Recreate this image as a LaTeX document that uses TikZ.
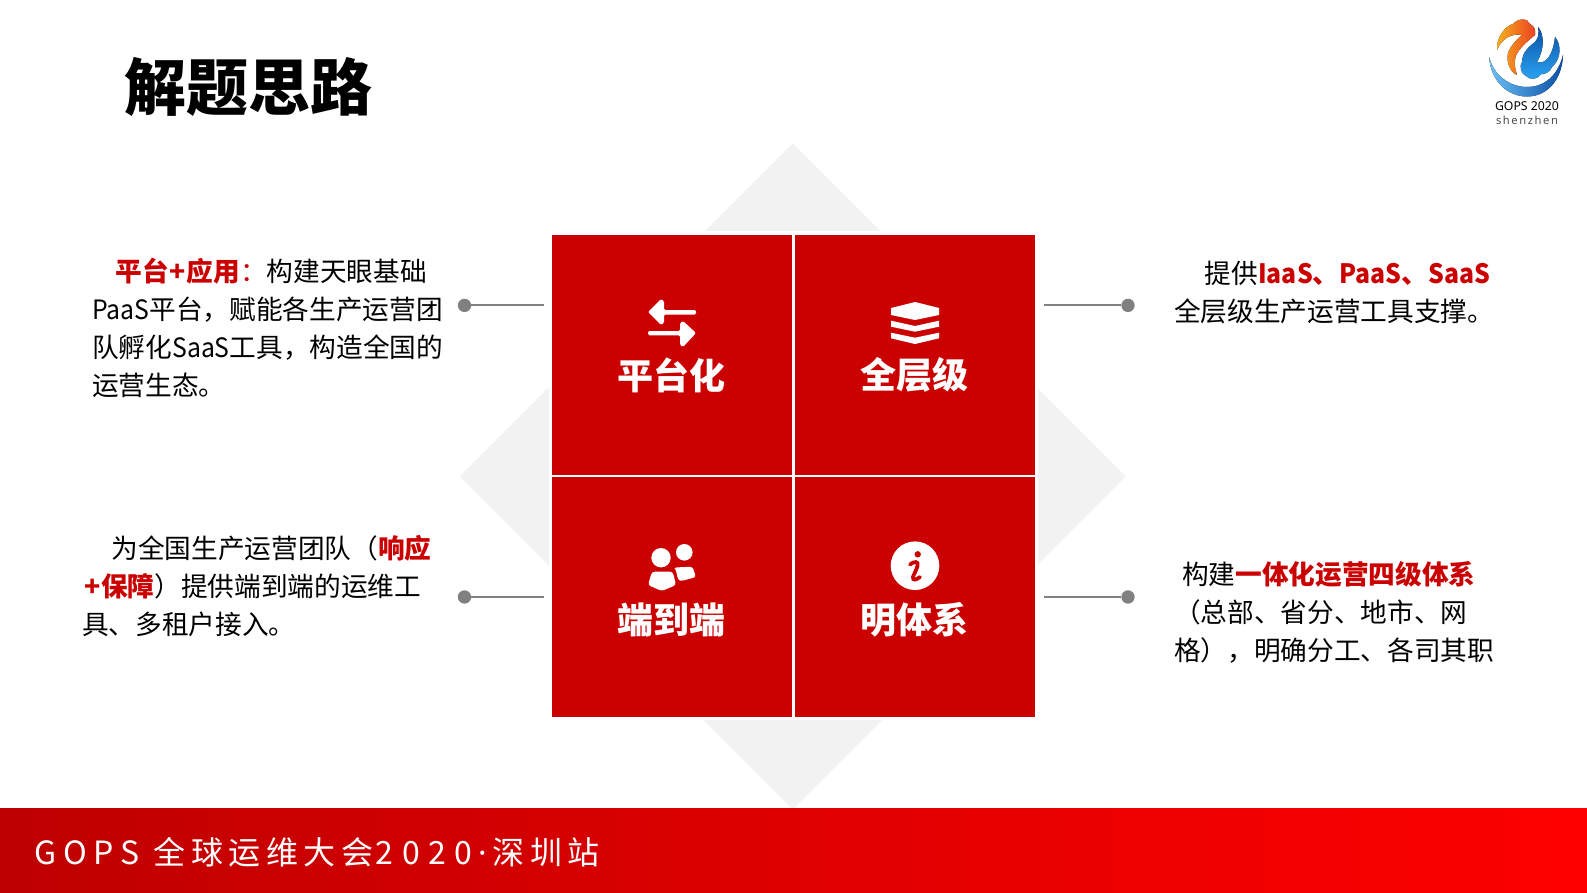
\documentclass[tikz,border=0pt]{standalone}
\usepackage{fontspec}
\setmainfont{Noto Sans CJK SC}
\newfontfamily\bannerfont[LetterSpace=17]{Noto Sans CJK SC}
\newfontfamily\bannerlatin[LetterSpace=21]{Noto Sans CJK SC}
\newfontfamily\bannerdigits[LetterSpace=27]{Noto Sans CJK SC}
\newfontfamily\logofont{Noto Sans}
\usepackage{tikz}
\usetikzlibrary{calc}
\definecolor{boxred}{HTML}{CB0000}
\definecolor{lightgrey}{HTML}{F2F2F2}
\definecolor{dotgrey}{HTML}{808080}
\definecolor{bannerleft}{HTML}{BE0000}
\definecolor{bannermid}{HTML}{D20000}
\definecolor{logoblue}{HTML}{2AA5F0}
\definecolor{logodark}{HTML}{0B4FA8}
\definecolor{logoyellow}{HTML}{F7B21C}
\definecolor{logored}{HTML}{EC3F24}
\tikzset{
    redbox/.style={fill=boxred,draw=none,minimum width=240*0.75pt,minimum height=240*0.75pt,inner sep=0,outer sep=0},
    boxlabel/.style={text=white,font=\fontsize{27}{30}\selectfont\bfseries,inner sep=0},
    dotnode/.style={circle,fill=dotgrey,minimum size=10pt,inner sep=0,outer sep=0},
    linkline/.style={draw=dotgrey,line width=1.4pt},
    bodytext/.style={anchor=north west,align=left,inner sep=0,font=\fontsize{20}{28.5}\selectfont},
    iconfill/.style={fill=white,draw=none},
}
\newcommand{\hot}[1]{\textcolor{boxred}{\bfseries #1}}
\newcommand{\slim}[1]{\scalebox{.93}[1]{#1}}
\newcommand{\hotlatin}[1]{\textcolor{boxred}{\bfseries\slim{#1}}}
\begin{document}
\begin{tikzpicture}[x=0.75pt,y=-0.75pt]
    \useasboundingbox (0,0) rectangle (1587,892);
    % grey diamond and white backing
    \fill[lightgrey] (792.7,143.4) -- (1125.7,476.4) -- (792.7,809.4) -- (459.7,476.4) -- cycle;
    \fill[white] (548.5,230.5) rectangle (1038,720);
    % banner
    \fill[left color=bannerleft,middle color=bannermid,right color=red] (0,808) rectangle (1587,892);
    \node[anchor=west,text=white,inner sep=0,font=\bannerfont\fontsize{24}{28}\selectfont] (banner) at (34,852) {{\bannerlatin GOPS}\hspace{11pt}全球运维大会\hspace{2pt}{\bannerdigits 2020}\hspace{4pt}{\logofont ·}\hspace{4.5pt}深圳站};
    % title
    \node[anchor=west,inner sep=0,font=\fontsize{46.5}{50}\selectfont\bfseries] (title) at (124,87) {解题思路};
    % four boxes
    \node[redbox] (boxa) at (671.5,354.8) {};
    \node[redbox] (boxb) at (915,354.8) {};
    \node[redbox] (boxc) at (671.5,597.2) {};
    \node[redbox] (boxd) at (915,597.2) {};
    \node[boxlabel] (laba) at (671.7,375) {平台化};
    \node[boxlabel] (labb) at (914.5,375) {全层级};
    \node[boxlabel] (labc) at (671.7,620) {端到端};
    \node[boxlabel] (labd) at (914.5,620) {明体系};
    % connectors
    \node[dotnode] (dota) at (464.5,305.4) {};
    \node[dotnode] (dotb) at (1128,305.4) {};
    \node[dotnode] (dotc) at (464.5,597) {};
    \node[dotnode] (dotd) at (1128,597) {};
    \coordinate (enda) at (543.6,305.4);
    \coordinate (endb) at (1043.6,305.4);
    \coordinate (endc) at (543.6,597);
    \coordinate (endd) at (1043.6,597);
    \draw[linkline] (dota) -- (enda);
    \draw[linkline] (dotb) -- (endb);
    \draw[linkline] (dotc) -- (endc);
    \draw[linkline] (dotd) -- (endd);
    % paragraphs
    \node[bodytext] (texta) at (92,258) {\hspace*{17.5pt}\hot{平台\hspace{.6pt}+\hspace{.6pt}应用}\textcolor{boxred}{：}构建天眼基础\\\slim{PaaS}平台，赋能各生产运营团\\队孵化\slim{SaaS}工具，构造全国的\\运营生态。};
    \node[bodytext] (textb) at (1174,261) {\hspace*{23pt}提供\hotlatin{IaaS}\hot{、}\hotlatin{PaaS}\hot{、}\hotlatin{SaaS}\\全层级生产运营工具支撑。};
    \node[bodytext] (textc) at (82,535) {\hspace*{22pt}为全国生产运营团队（\hot{响应}\\\hspace*{2pt}\hot{+保障}）提供端到端的运维工\\具、多租户接入。};
    \node[bodytext] (textd) at (1174,561) {\hspace*{6pt}构建\hot{一体化运营四级体系}\\（总部、省分、地市、网\\格），明确分工、各司其职};
    % arrows icon
    \fill[iconfill,rounded corners=1pt] (648,312) -- (661,299) -- (664,301) -- (664,310) -- (696,310) -- (696,314.5) -- (664,314.5) -- (664,323) -- (661,325) -- cycle;
    \fill[iconfill,rounded corners=1pt] (696,333) -- (683,347) -- (680,345) -- (680,335.3) -- (648,335.3) -- (648,331) -- (680,331) -- (680,323) -- (683,321) -- cycle;
    % layers icon
    \fill[iconfill] (891,308) -- (915,302) -- (939,308) -- (939,315) -- (915,320) -- (891,315) -- cycle;
    \fill[iconfill] (891,320.7) -- (915,326) -- (939,320.7) -- (939,326.7) -- (915,331.7) -- (891,326.7) -- cycle;
    \fill[iconfill] (891,332.7) -- (915,337.7) -- (939,332.7) -- (939,338.3) -- (915,344) -- (891,338.3) -- cycle;
    % people icon
    \fill[iconfill] (661,557.7) circle (9.7);
    \fill[iconfill] (684.3,552.3) circle (8.3);
    \fill[iconfill,rounded corners=2pt] (652,571.7) -- (672.7,571.7) -- (676,585) -- (661.7,591) -- (648,585) -- cycle;
    \fill[iconfill,rounded corners=2pt] (674,567.5) -- (692.5,566.7) -- (696,577) -- (681.7,581) -- (678,580) -- (676,570) -- cycle;
    % info icon
    \fill[iconfill] (915,565.7) circle (24.3);
    \fill[boxred] (917.7,554.3) circle (3.2);
    \draw[boxred,line width=2.8pt,line cap=round] (910,564.5) .. controls (914,561) and (919,561) .. (917.5,566) .. controls (916,571) and (913.5,575) .. (913,577) .. controls (912.5,581) and (916,580) .. (920,577);
    % logo
    \fill[left color=logoblue!70,right color=logodark] (1489,57) .. controls (1491,82) and (1508,96.5) .. (1527,96.5) .. controls (1547,96.5) and (1562,80) .. (1563,55) .. controls (1558,75) and (1545,87) .. (1527,87) .. controls (1510,87) and (1494,76) .. (1489,57) -- cycle;
    \fill[left color=logoyellow,right color=logored] (1497,50) .. controls (1496,38) and (1505,26) .. (1513,24) .. controls (1518,18) and (1528,18) .. (1530,24) .. controls (1534,26) and (1536,30) .. (1535,35) .. controls (1526,42) and (1515,52) .. (1515,60) .. controls (1514,66) and (1516,71) .. (1517,75) .. controls (1510,72) and (1506,62) .. (1508,53) .. controls (1510,47) and (1516,40) .. (1522,35) .. controls (1512,33) and (1502,38) .. (1497,50) -- cycle;
    \fill[top color=logodark,bottom color=logoblue] (1538,27) .. controls (1544,34) and (1545,48) .. (1537,62) .. controls (1545,65) and (1553,56) .. (1555,37) .. controls (1561,44) and (1562,58) .. (1552,67) .. controls (1550,72) and (1544,75) .. (1541,74) .. controls (1537,80) and (1530,80) .. (1526,76) .. controls (1521,74) and (1519,66) .. (1522,62) .. controls (1522,52) and (1530,46) .. (1535,42) .. controls (1539,38) and (1539,32) .. (1538,27) -- cycle;
    \node[inner sep=0,font=\logofont\fontsize{9.2}{11}\selectfont] (logoa) at (1527,106) {GOPS \textbf{2020}};
    \node[inner sep=0,text=black!70,font=\logofont\fontsize{8.4}{10}\selectfont] (logob) at (1527,120.5) {\addfontfeature{LetterSpace=14}shenzhen};
\end{tikzpicture}
\end{document}
